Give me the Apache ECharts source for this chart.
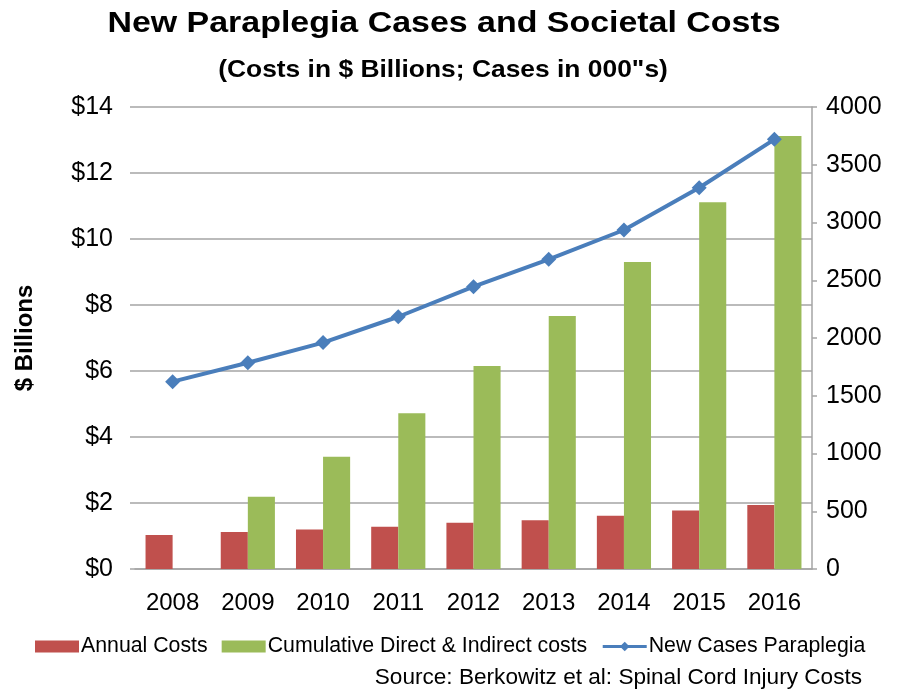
<!DOCTYPE html>
<html>
<head>
<meta charset="utf-8">
<script src="https://cdn.jsdelivr.net/npm/echarts@6/dist/echarts.min.js"></script>
<style>html,body{margin:0;padding:0;background:#fff}#c{width:898px;height:691px}</style>
</head>
<body>
<div id="c"></div>
<script>
const years = ['2008','2009','2010','2011','2012','2013','2014','2015','2016'];
const annualCosts = [1.03, 1.12, 1.20, 1.28, 1.40, 1.48, 1.61, 1.77, 1.94];
const cumulativeCosts = [null, 2.19, 3.40, 4.72, 6.15, 7.67, 9.30, 11.11, 13.12];
const newCases = [1622, 1786, 1960, 2184, 2444, 2681, 2935, 3301, 3720];

const FONT = '"Liberation Sans", Arial, sans-serif';
const chart = echarts.init(document.getElementById('c'), null, {renderer: 'canvas'});
chart.setOption({
  animation: false,
  backgroundColor: '#ffffff',
  grid: {left: 135, right: 86, top: 107, bottom: 122},
  legend: {
    left: 30, top: 631, itemWidth: 44, itemHeight: 12, itemGap: 14,
    textStyle: {fontFamily: FONT, fontSize: 21.3, color: '#000', padding: [0, 0, 0, -3]},
    data: [
      {name: 'Annual Costs', icon: 'rect'},
      {name: 'Cumulative Direct & Indirect costs', icon: 'rect'},
      {name: 'New Cases Paraplegia', lineStyle: {width: 3}}
    ]
  },
  xAxis: {
    type: 'category', data: years,
    axisLine: {show: true, lineStyle: {color: '#a5a5a5', width: 1.5}},
    axisTick: {show: false},
    axisLabel: {fontFamily: FONT, fontSize: 24, color: '#000', margin: 22}
  },
  yAxis: [
    {
      type: 'value', min: 0, max: 14, interval: 2,
      name: '$ Billions', nameLocation: 'middle', nameGap: 98, nameRotate: 90,
      nameTextStyle: {fontFamily: FONT, fontSize: 24, fontWeight: 'bold', color: '#000'},
      axisLine: {show: false},
      axisTick: {show: true, length: 5, lineStyle: {color: '#a5a5a5', width: 1.5}},
      splitLine: {show: true, lineStyle: {color: '#a5a5a5', width: 1.5}},
      axisLabel: {fontFamily: FONT, fontSize: 25, color: '#000', margin: 22,
                  formatter: v => '$' + v}
    },
    {
      type: 'value', min: 0, max: 4000, interval: 500, position: 'right',
      axisLine: {show: true, lineStyle: {color: '#a5a5a5', width: 1.5}},
      axisTick: {show: true, length: 5, lineStyle: {color: '#a5a5a5', width: 1.5}},
      splitLine: {show: false},
      axisLabel: {fontFamily: FONT, fontSize: 25, color: '#000', margin: 14,
                  formatter: v => String(v)}
    }
  ],
  series: [
    {name: 'Annual Costs', type: 'bar', yAxisIndex: 0, data: annualCosts,
     itemStyle: {color: '#C0504D'}, barGap: '0%', barCategoryGap: '28%'},
    {name: 'Cumulative Direct & Indirect costs', type: 'bar', yAxisIndex: 0, data: cumulativeCosts,
     itemStyle: {color: '#9BBB59'}},
    {name: 'New Cases Paraplegia', type: 'line', yAxisIndex: 1, data: newCases,
     symbol: 'diamond', symbolSize: 15,
     lineStyle: {color: '#4A7EBB', width: 4},
     itemStyle: {color: '#4A7EBB'}}
  ],
  graphic: [
    {type: 'text', x: 444, y: 24, scaleX: 1.17,
     style: {text: 'New Paraplegia Cases and Societal Costs', font: 'bold 29px ' + FONT,
             fill: '#000', align: 'center', verticalAlign: 'middle'}},
    {type: 'text', x: 443, y: 70, scaleX: 1.1,
     style: {text: '(Costs in $ Billions; Cases in 000"s)', font: 'bold 24px ' + FONT,
             fill: '#000', align: 'center', verticalAlign: 'middle'}},
    {type: 'text', x: 862, y: 678,
     style: {text: 'Source: Berkowitz et al: Spinal Cord Injury Costs', font: '22.6px ' + FONT,
             fill: '#000', align: 'right', verticalAlign: 'middle'}}
  ]
});
</script>
</body>
</html>
